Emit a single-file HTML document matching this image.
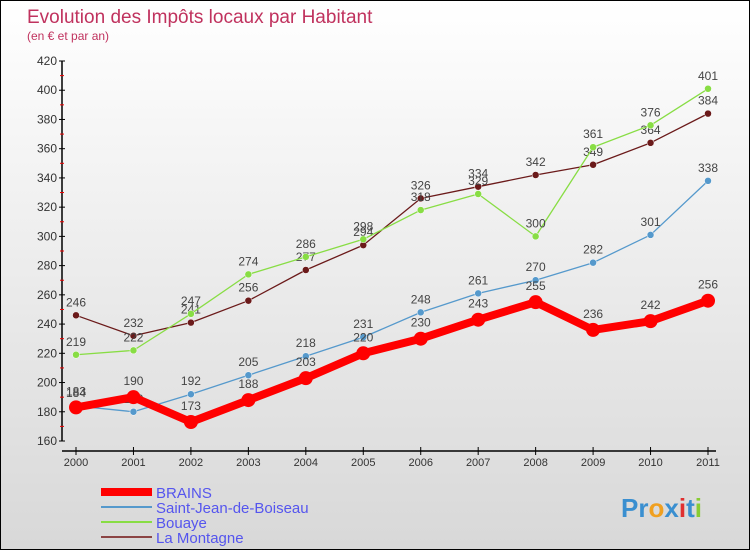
<!DOCTYPE html>
<html><head><meta charset="utf-8"><style>
body{margin:0}
#c{width:750px;height:550px;position:relative;box-sizing:border-box;border:1px solid #000;background:linear-gradient(#fff,#d8d8d8);overflow:hidden;font-family:"Liberation Sans",sans-serif}
</style></head><body>
<div id="c">
<svg width="750" height="550" id="svg">
<text x="26" y="22" font-size="19" fill="#c0325e">Evolution des Impôts locaux par Habitant</text>
<text x="26" y="39" font-size="12" fill="#c0325e">(en € et par an)</text>
<g id="g"></g>
<text x="620" y="516" font-size="26" font-weight="bold"><tspan fill="#3a8fd0">Pr</tspan><tspan fill="#f0a020">o</tspan><tspan fill="#3a8fd0">x</tspan><tspan fill="#e03030">i</tspan><tspan fill="#3a8fd0">t</tspan><tspan fill="#88cc33">i</tspan></text>
</svg></div>
<script>
const years=[2000,2001,2002,2003,2004,2005,2006,2007,2008,2009,2010,2011];
const yTicks=[160,180,200,220,240,260,280,300,320,340,360,380,400,420];
const brains=[183,190,173,188,203,220,230,243,255,236,242,256];
const sjb=[184,180,192,205,218,231,248,261,270,282,301,338];
const bouaye=[219,222,247,274,286,298,318,329,300,361,376,401];
const montagne=[246,232,241,256,277,294,326,334,342,349,364,384];
const names=["BRAINS","Saint-Jean-de-Boiseau","Bouaye","La Montagne"];
const NS="http://www.w3.org/2000/svg";
const g=document.getElementById('g');
const X=i=>75+i*(707-75)/(years.length-1);
const Y=v=>440-(v-160)*(380/260);
function el(t,a,p){const e=document.createElementNS(NS,t);for(const k in a)e.setAttribute(k,a[k]);(p||g).appendChild(e);return e;}
// axes
let a=el('line',{x1:61,y1:60,x2:61,y2:440,stroke:'#000','stroke-width':1.5});


a=el('line',{x1:61,y1:450,x2:715,y2:450,stroke:'#000','stroke-width':1.5});


yTicks.forEach((v,i)=>{
 el('line',{x1:58,y1:Y(v),x2:64,y2:Y(v),stroke:'#000'});
 if(i<yTicks.length-1) el('line',{x1:59,y1:Y(v+10),x2:63,y2:Y(v+10),stroke:'#e00'});
 const t=el('text',{x:56,y:Y(v)+4,'font-size':12,fill:'#333','text-anchor':'end'});t.textContent=v;
 
 
});
years.forEach((y,i)=>{
 el('line',{x1:X(i),y1:446,x2:X(i),y2:454,stroke:'#000'});
 const t=el('text',{x:X(i),y:465,'font-size':11,fill:'#333','text-anchor':'middle'});t.textContent=y;
 
 
});
const series=[[montagne,'#6b1a1a',1.3,3.5],[bouaye,'#88dd44',1.3,3.5],[sjb,'#5599cc',1.3,3.5],[brains,'#ff0000',8,7]];
series.forEach(([d,c,w,r],si)=>{
 const p=el('polyline',{points:d.map((v,i)=>X(i)+','+Y(v)).join(' '),fill:'none',stroke:c,'stroke-width':w,'stroke-linejoin':'round'});
 
 
 d.forEach((v,i)=>{
  const m=el('circle',{cx:X(i),cy:Y(v),r:r,fill:c,stroke:si==3?'none':'#fff','stroke-width':0.5});
  
  
  const t=el('text',{x:X(i),y:Y(v)-(si==3?12:9),'font-size':12,fill:'#444','text-anchor':'middle'});t.textContent=v;
  
  
 });
});
const lc=['#ff0000','#5599cc','#88dd44','#8b4444'],lw=[8,2,2,2];
names.forEach((n,i)=>{
 const yy=491+i*15;
 const l=el('line',{x1:100,y1:yy,x2:151,y2:yy,stroke:lc[i],'stroke-width':lw[i]});
 
 
 const t=el('text',{x:155,y:yy+6,'font-size':15,fill:'#5555ee'});t.textContent=n;
 
 
});
</script>
</body></html>
